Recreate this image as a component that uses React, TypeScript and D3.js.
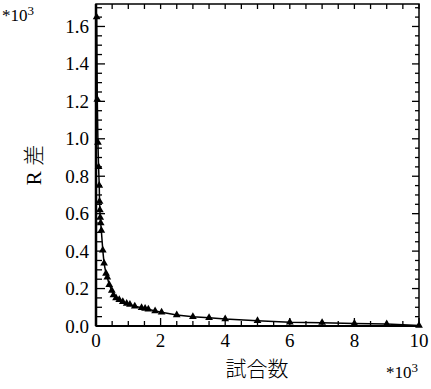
import { useEffect, useRef } from 'react';
import * as d3 from 'd3';

// trials (x 10^3) and R difference (x 10^3)
const trials = [0.02, 0.04, 0.06, 0.08, 0.10, 0.11, 0.12, 0.13, 0.145, 0.165, 0.21, 0.25, 0.31, 0.35, 0.41, 0.49, 0.54, 0.62, 0.72, 0.83, 0.95, 1.05, 1.2, 1.41, 1.52, 1.62, 1.83, 2.03, 2.5, 3.0, 3.5, 4.0, 5.0, 6.0, 7.0, 8.0, 9.0, 10.0];
const rDiff = [1.65, 1.21, 0.98, 0.85, 0.75, 0.665, 0.62, 0.58, 0.55, 0.51, 0.405, 0.335, 0.28, 0.26, 0.22, 0.19, 0.165, 0.15, 0.14, 0.13, 0.12, 0.115, 0.105, 0.097, 0.094, 0.09, 0.08, 0.074, 0.059, 0.05, 0.044, 0.037, 0.028, 0.02, 0.018, 0.013, 0.011, 0.003];
const xTicks = [0, 2, 4, 6, 8, 10];
const yTicks = [0, 0.2, 0.4, 0.6, 0.8, 1.0, 1.2, 1.4, 1.6];

const [width, height] = [431, 389];
const [left, right, top, bottom] = [96, 419, 4, 326];

var xScale = d3.scaleLinear().domain([0, 10]).range([left, right]);
var yScale = d3.scaleLinear().domain([0, 1.72]).range([bottom, top]);

function App() {
    const node = useRef<SVGSVGElement>(null);
    useEffect(() => {
        if (!node.current) return;
        const svg = d3.select(node.current);
        svg.selectAll('*').remove();
        const font = "'Liberation Serif', 'DejaVu Serif', 'Times New Roman', serif";

        const xMinor = d3.range(0, 10.01, 0.5);
        const yMinor = d3.range(0, 1.72, 0.05);

        /** Ticks inside the frame */
        const g = svg.append('g').attr('stroke', '#000').attr('stroke-width', 1.3);
        xMinor.forEach(v => {
            const major = Math.abs(v % 2) < 1e-6;
            const x = xScale(v);
            g.append('line').attr('x1', x).attr('x2', x).attr('y1', bottom).attr('y2', bottom - (major ? 8 : 5));
            g.append('line').attr('x1', x).attr('x2', x).attr('y1', top).attr('y2', top + 5);
        });
        yMinor.forEach(v => {
            const major = Math.abs(Math.round(v / 0.2) * 0.2 - v) < 1e-6;
            const y = yScale(v);
            g.append('line').attr('x1', left).attr('x2', left + (major ? 9 : 6)).attr('y1', y).attr('y2', y);
            g.append('line').attr('x1', right).attr('x2', right - (major ? 7 : 4)).attr('y1', y).attr('y2', y);
        });

        /** Frame */
        svg.append('rect').attr('x', left).attr('y', top)
            .attr('width', right - left).attr('height', bottom - top)
            .attr('fill', 'none').attr('stroke', '#000').attr('stroke-width', 1.5);
        svg.append('line').attr('x1', left).attr('x2', left).attr('y1', top).attr('y2', bottom)
            .attr('stroke', '#000').attr('stroke-width', 2.5);
        svg.append('line').attr('x1', left).attr('x2', right).attr('y1', bottom).attr('y2', bottom)
            .attr('stroke', '#000').attr('stroke-width', 2);

        /** Tick labels */
        svg.append('g').selectAll('text').data(xTicks).enter().append('text')
            .attr('x', d => xScale(d)).attr('y', 347)
            .attr('text-anchor', 'middle').style('font-family', font).style('font-size', '19px')
            .text(d => String(d));
        svg.append('g').selectAll('text').data(yTicks).enter().append('text')
            .attr('x', 89).attr('y', d => yScale(d) + 6.5)
            .attr('text-anchor', 'end').style('font-family', font).style('font-size', '19px')
            .text(d => d.toFixed(1));

        /** Multipliers */
        const mult = (x: number, y: number) => {
            const t = svg.append('text').attr('x', x).attr('y', y).style('font-family', font).style('font-size', '17px');
            t.append('tspan').text('*10');
            t.append('tspan').attr('dy', -6).style('font-size', '13px').text('3');
        };
        mult(2, 21);
        mult(386, 378);

        /** Axis titles */
        svg.append('text').attr('x', 257).attr('y', 376).attr('text-anchor', 'middle')
            .style('font-family', "'Noto Sans CJK JP', sans-serif").attr('font-weight', 300).style('font-size', '21px')
            .text('試合数');
        const yt = svg.append('text').attr('transform', 'translate(41,165) rotate(-90)').attr('text-anchor', 'middle')
            .style('font-size', '21px');
        yt.append('tspan').style('font-family', font).text('R ');
        yt.append('tspan').style('font-family', "'Noto Sans CJK JP', sans-serif").attr('font-weight', 300).text('差');

        /** Curve + markers */
        const pts = trials.map((t, i) => [t, rDiff[i]] as [number, number]);
        const line = d3.line<[number, number]>().x(d => xScale(d[0])).y(d => yScale(d[1]));
        svg.append('path').attr('d', line(pts)).attr('fill', 'none')
            .attr('stroke', '#000').attr('stroke-width', 1.5);
        const sym = d3.symbol().type(d3.symbolTriangle).size(26);
        svg.append('g').selectAll('path').data(pts).enter().append('path')
            .attr('transform', d => `translate(${xScale(d[0])},${yScale(d[1])})`)
            .attr('d', sym()).attr('fill', '#000');
    }, [node]);
    return (
        <svg ref={node} width={width} height={height}
            style={{ position: 'absolute', left: 0, top: 0, background: '#fff' }}></svg>
    );
}

export default App;
